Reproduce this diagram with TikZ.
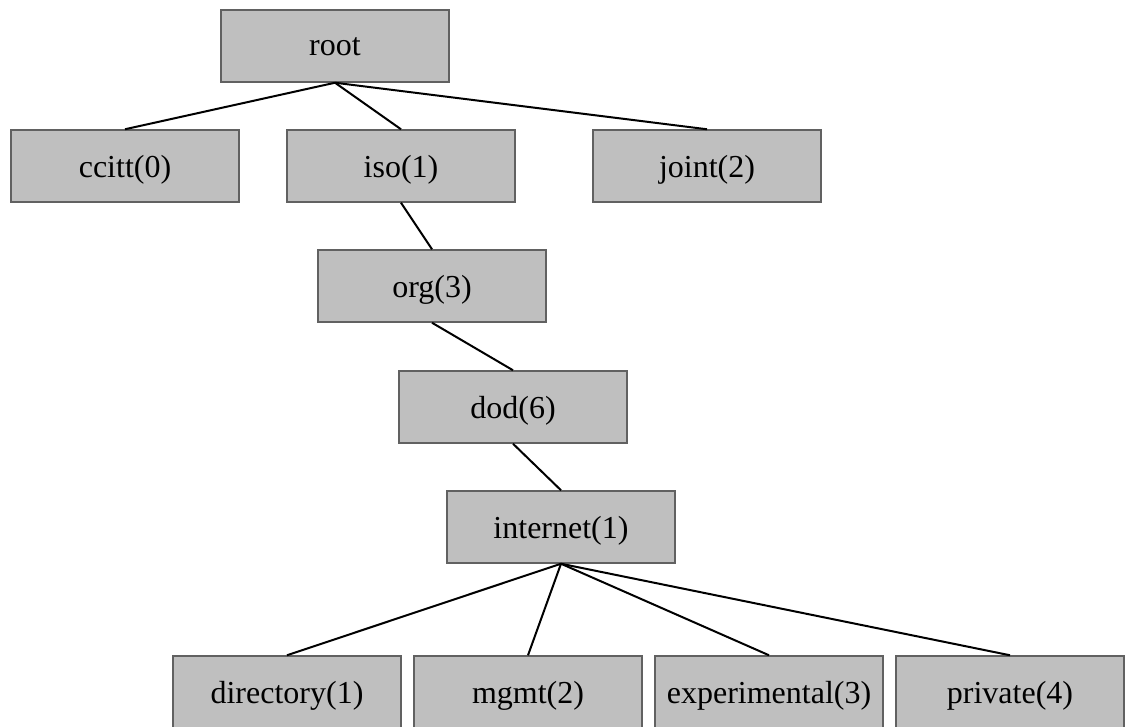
\documentclass[tikz,border=0pt]{standalone}
\usepackage{fontspec}
\setmainfont{Liberation Serif}
\begin{document}
\begin{tikzpicture}[x=0.75pt,y=-0.75pt,
  box/.style={draw=black!62, line width=1.1pt, fill=black!25, minimum width=171pt, minimum height=54pt, inner sep=0pt, text depth=0pt, font=\fontsize{24}{28}\selectfont},
  link/.style={line width=1.5pt, black}]
\useasboundingbox (0,0) rectangle (1125,727);
\node[box] (root) at (335,46) {root};
\node[box] (ccitt) at (125,166) {ccitt(0)};
\node[box] (iso) at (401,166) {iso(1)};
\node[box] (joint) at (707,166) {joint(2)};
\node[box] (org) at (432,286) {org(3)};
\node[box] (dod) at (513,407) {dod(6)};
\node[box] (internet) at (561,527) {internet(1)};
\node[box] (directory) at (287,692) {directory(1)};
\node[box] (mgmt) at (528,692) {mgmt(2)};
\node[box] (experimental) at (769,692) {experimental(3)};
\node[box] (private) at (1010,692) {private(4)};
\draw[link] (root.south) -- (ccitt.north);
\draw[link] (root.south) -- (iso.north);
\draw[link] (root.south) -- (joint.north);
\draw[link] (iso.south) -- (org.north);
\draw[link] (org.south) -- (dod.north);
\draw[link] (dod.south) -- (internet.north);
\draw[link] (internet.south) -- (directory.north);
\draw[link] (internet.south) -- (mgmt.north);
\draw[link] (internet.south) -- (experimental.north);
\draw[link] (internet.south) -- (private.north);
\end{tikzpicture}
\end{document}
